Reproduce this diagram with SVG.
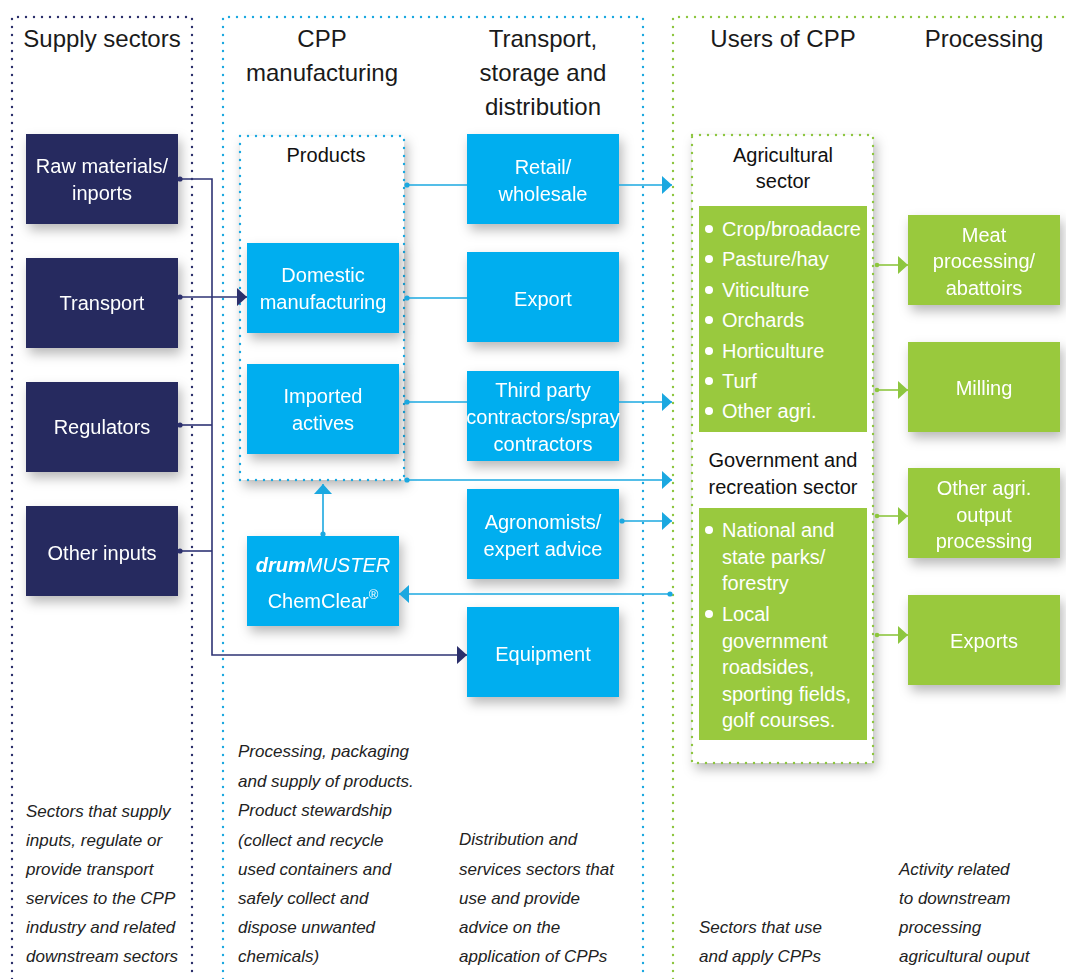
<svg xmlns="http://www.w3.org/2000/svg" width="1066" height="979" viewBox="0 0 1066 979">
<style>
  text { font-family: "Liberation Sans", Arial, sans-serif; }
  .hd { font-size: 24px; fill: #1a1a1a; text-anchor: middle; }
  .nt { font-size: 20px; fill: #ffffff; text-anchor: middle; }
  .bt { font-size: 20px; fill: #ffffff; }
  .sh { font-size: 20px; fill: #111111; text-anchor: middle; }
  .it { font-size: 17px; fill: #222222; font-style: italic; }
  .navy { fill: #252B5F; }
  .cyan { fill: #00AEEF; }
  .green { fill: #99C93E; }
  .colN { fill: none; stroke: #2B2F6B; stroke-width: 2.4; stroke-linecap: round; stroke-dasharray: 0 8; }
  .colC { fill: none; stroke: #1BA8E0; stroke-width: 2.4; stroke-linecap: round; stroke-dasharray: 0 8; }
  .colG { fill: none; stroke: #8DC63F; stroke-width: 2.4; stroke-linecap: round; stroke-dasharray: 0 8; }
  .cN { fill: none; stroke: #2E3374; stroke-width: 1.6; }
  .cC { fill: none; stroke: #1BA8E0; stroke-width: 1.6; }
  .cG { fill: none; stroke: #8DC63F; stroke-width: 1.6; }
</style>
<defs>
  <filter id="sh" x="-20%" y="-20%" width="150%" height="160%">
    <feDropShadow dx="3" dy="6" stdDeviation="6" flood-color="#000" flood-opacity="0.28"/>
  </filter>
  <marker id="aN" markerUnits="userSpaceOnUse" markerWidth="10" markerHeight="18" refX="10" refY="9" orient="auto"><path d="M0,0 L10,9 L0,18 z" fill="#2B2F6B"/></marker>
  <marker id="aC" markerUnits="userSpaceOnUse" markerWidth="10" markerHeight="18" refX="10" refY="9" orient="auto"><path d="M0,0 L10,9 L0,18 z" fill="#1BA8E0"/></marker>
  <marker id="aG" markerUnits="userSpaceOnUse" markerWidth="10" markerHeight="18" refX="10" refY="9" orient="auto"><path d="M0,0 L10,9 L0,18 z" fill="#8DC63F"/></marker>
  <marker id="dN" markerUnits="userSpaceOnUse" markerWidth="6" markerHeight="6" refX="3" refY="3"><circle cx="3" cy="3" r="2.6" fill="#2B2F6B"/></marker>
  <marker id="dC" markerUnits="userSpaceOnUse" markerWidth="6" markerHeight="6" refX="3" refY="3"><circle cx="3" cy="3" r="2.6" fill="#1BA8E0"/></marker>
  <marker id="dG" markerUnits="userSpaceOnUse" markerWidth="6" markerHeight="6" refX="3" refY="3"><circle cx="3" cy="3" r="2.3" fill="#8DC63F"/></marker>
</defs>
<rect width="1066" height="979" fill="#ffffff"/>

<!-- column frames -->
<g id="columns">
  <path class="colN" d="M12,979 V17 H192 V979"/>
  <path class="colC" d="M223,979 V17 H643 V979"/>
  <path class="colG" d="M673,979 V17 H1070"/>
  <text class="hd" x="102" y="47">Supply sectors</text>
  <text class="hd" x="322" y="47">CPP</text>
  <text class="hd" x="322" y="81">manufacturing</text>
  <text class="hd" x="543" y="47">Transport,</text>
  <text class="hd" x="543" y="81">storage and</text>
  <text class="hd" x="543" y="115">distribution</text>
  <text class="hd" x="783" y="47">Users of CPP</text>
  <text class="hd" x="984" y="47">Processing</text>
</g>

<!-- supply nodes -->
<g id="raw-materials" filter="url(#sh)"><rect class="navy" x="26" y="134" width="152" height="90"/><text class="nt" x="102" y="173">Raw materials/</text><text class="nt" x="102" y="200">inports</text></g>
<g id="transport" filter="url(#sh)"><rect class="navy" x="26" y="258" width="152" height="90"/><text class="nt" x="102" y="310">Transport</text></g>
<g id="regulators" filter="url(#sh)"><rect class="navy" x="26" y="382" width="152" height="90"/><text class="nt" x="102" y="434">Regulators</text></g>
<g id="other-inputs" filter="url(#sh)"><rect class="navy" x="26" y="506" width="152" height="90"/><text class="nt" x="102" y="560">Other inputs</text></g>

<!-- products group -->
<g id="products">
  <rect x="240" y="136" width="164" height="344" fill="#ffffff" filter="url(#sh)"/>
  <rect class="colC" x="240" y="136" width="164" height="344"/>
  <text class="sh" x="326" y="162">Products</text>
</g>
<g id="domestic-manufacturing" filter="url(#sh)"><rect class="cyan" x="247" y="243" width="152" height="90"/><text class="nt" x="323" y="282">Domestic</text><text class="nt" x="323" y="309">manufacturing</text></g>
<g id="imported-actives" filter="url(#sh)"><rect class="cyan" x="247" y="364" width="152" height="90"/><text class="nt" x="323" y="403">Imported</text><text class="nt" x="323" y="430">actives</text></g>
<g id="drummuster" filter="url(#sh)"><rect class="cyan" x="247" y="536" width="152" height="90"/>
  <text class="nt" x="323" y="572" font-style="italic"><tspan font-weight="bold">drum</tspan>MUSTER</text>
  <text class="nt" x="323" y="608">ChemClear<tspan font-size="13" dy="-9">®</tspan></text></g>

<!-- transport nodes -->
<g id="retail" filter="url(#sh)"><rect class="cyan" x="467" y="134" width="152" height="90"/><text class="nt" x="543" y="174">Retail/</text><text class="nt" x="543" y="201">wholesale</text></g>
<g id="export" filter="url(#sh)"><rect class="cyan" x="467" y="252" width="152" height="90"/><text class="nt" x="543" y="306">Export</text></g>
<g id="third-party" filter="url(#sh)"><rect class="cyan" x="467" y="371" width="152" height="90"/><text class="nt" x="543" y="397">Third party</text><text class="nt" x="543" y="424">contractors/spray</text><text class="nt" x="543" y="451">contractors</text></g>
<g id="agronomists" filter="url(#sh)"><rect class="cyan" x="467" y="489" width="152" height="90"/><text class="nt" x="543" y="529">Agronomists/</text><text class="nt" x="543" y="556">expert advice</text></g>
<g id="equipment" filter="url(#sh)"><rect class="cyan" x="467" y="607" width="152" height="90"/><text class="nt" x="543" y="661">Equipment</text></g>

<!-- users -->
<g id="users">
  <rect x="692" y="135" width="181" height="628" fill="#ffffff" filter="url(#sh)"/>
  <rect class="colG" x="692" y="135" width="181" height="628"/>
  <text class="sh" x="783" y="162">Agricultural</text>
  <text class="sh" x="783" y="188">sector</text>
  <text class="sh" x="783" y="467">Government and</text>
  <text class="sh" x="783" y="494">recreation sector</text>
</g>
<g id="agricultural-sector">
  <rect class="green" x="699" y="206" width="168" height="226"/>
  <g fill="#ffffff"><circle cx="709" cy="229" r="4"/><circle cx="709" cy="259" r="4"/><circle cx="709" cy="290" r="4"/><circle cx="709" cy="320" r="4"/><circle cx="709" cy="351" r="4"/><circle cx="709" cy="381" r="4"/><circle cx="709" cy="411" r="4"/></g>
  <text class="bt" x="722" y="236">Crop/broadacre</text>
  <text class="bt" x="722" y="266">Pasture/hay</text>
  <text class="bt" x="722" y="297">Viticulture</text>
  <text class="bt" x="722" y="327">Orchards</text>
  <text class="bt" x="722" y="358">Horticulture</text>
  <text class="bt" x="722" y="388">Turf</text>
  <text class="bt" x="722" y="418">Other agri.</text>
</g>
<g id="government-sector">
  <rect class="green" x="699" y="508" width="168" height="232"/>
  <g fill="#ffffff"><circle cx="709" cy="530" r="4"/><circle cx="709" cy="614" r="4"/></g>
  <text class="bt" x="722" y="537">National and</text>
  <text class="bt" x="722" y="564">state parks/</text>
  <text class="bt" x="722" y="590">forestry</text>
  <text class="bt" x="722" y="621">Local</text>
  <text class="bt" x="722" y="648">government</text>
  <text class="bt" x="722" y="674">roadsides,</text>
  <text class="bt" x="722" y="701">sporting fields,</text>
  <text class="bt" x="722" y="727">golf courses.</text>
</g>

<!-- processing -->
<g id="meat" filter="url(#sh)"><rect class="green" x="908" y="215" width="152" height="90"/><text class="nt" x="984" y="242">Meat</text><text class="nt" x="984" y="268">processing/</text><text class="nt" x="984" y="295">abattoirs</text></g>
<g id="milling" filter="url(#sh)"><rect class="green" x="908" y="342" width="152" height="90"/><text class="nt" x="984" y="395">Milling</text></g>
<g id="other-agri-output" filter="url(#sh)"><rect class="green" x="908" y="468" width="152" height="90"/><text class="nt" x="984" y="495">Other agri.</text><text class="nt" x="984" y="522">output</text><text class="nt" x="984" y="548">processing</text></g>
<g id="exports" filter="url(#sh)"><rect class="green" x="908" y="595" width="152" height="90"/><text class="nt" x="984" y="648">Exports</text></g>

<!-- connectors -->
<g id="connectors">
  <path class="cN" d="M180,179 H212 V655 H467" marker-start="url(#dN)" marker-end="url(#aN)"/>
  <path class="cN" d="M180,297 H247" marker-start="url(#dN)" marker-end="url(#aN)"/>
  <path class="cN" d="M180,425 H212" marker-start="url(#dN)"/>
  <path class="cN" d="M180,551 H212" marker-start="url(#dN)"/>

  <path class="cC" d="M407,185 H467" marker-start="url(#dC)"/>
  <path class="cC" d="M619,185 H672" marker-end="url(#aC)"/>
  <path class="cC" d="M407,298 H467" marker-start="url(#dC)"/>
  <path class="cC" d="M407,402 H467" marker-start="url(#dC)"/>
  <path class="cC" d="M619,402 H672" marker-end="url(#aC)"/>
  <path class="cC" d="M407,480 H672" marker-start="url(#dC)" marker-end="url(#aC)"/>
  <path class="cC" d="M622,521 H672" marker-start="url(#dC)" marker-end="url(#aC)"/>
  <path class="cC" d="M670,594 H399" marker-start="url(#dC)" marker-end="url(#aC)"/>
  <path class="cC" d="M323,534 V484" marker-start="url(#dC)" marker-end="url(#aC)"/>

  <path class="cG" d="M877,265 H908" marker-start="url(#dG)" marker-end="url(#aG)"/>
  <path class="cG" d="M877,390 H908" marker-start="url(#dG)" marker-end="url(#aG)"/>
  <path class="cG" d="M877,516 H908" marker-start="url(#dG)" marker-end="url(#aG)"/>
  <path class="cG" d="M877,635 H908" marker-start="url(#dG)" marker-end="url(#aG)"/>
</g>

<!-- descriptions -->
<g id="descriptions">
  <text class="it" x="26" y="817">Sectors that supply</text>
  <text class="it" x="26" y="846">inputs, regulate or</text>
  <text class="it" x="26" y="875">provide transport</text>
  <text class="it" x="26" y="904">services to the CPP</text>
  <text class="it" x="26" y="933">industry and related</text>
  <text class="it" x="26" y="962">downstream sectors</text>

  <text class="it" x="238" y="757">Processing, packaging</text>
  <text class="it" x="238" y="787">and supply of products.</text>
  <text class="it" x="238" y="816">Product stewardship</text>
  <text class="it" x="238" y="846">(collect and recycle</text>
  <text class="it" x="238" y="875">used containers and</text>
  <text class="it" x="238" y="904">safely collect and</text>
  <text class="it" x="238" y="933">dispose unwanted</text>
  <text class="it" x="238" y="962">chemicals)</text>

  <text class="it" x="459" y="845">Distribution and</text>
  <text class="it" x="459" y="875">services sectors that</text>
  <text class="it" x="459" y="904">use and provide</text>
  <text class="it" x="459" y="933">advice on the</text>
  <text class="it" x="459" y="962">application of CPPs</text>

  <text class="it" x="699" y="933">Sectors that use</text>
  <text class="it" x="699" y="962">and apply CPPs</text>

  <text class="it" x="899" y="875">Activity related</text>
  <text class="it" x="899" y="904">to downstream</text>
  <text class="it" x="899" y="933">processing</text>
  <text class="it" x="899" y="962">agricultural ouput</text>
</g>
</svg>
